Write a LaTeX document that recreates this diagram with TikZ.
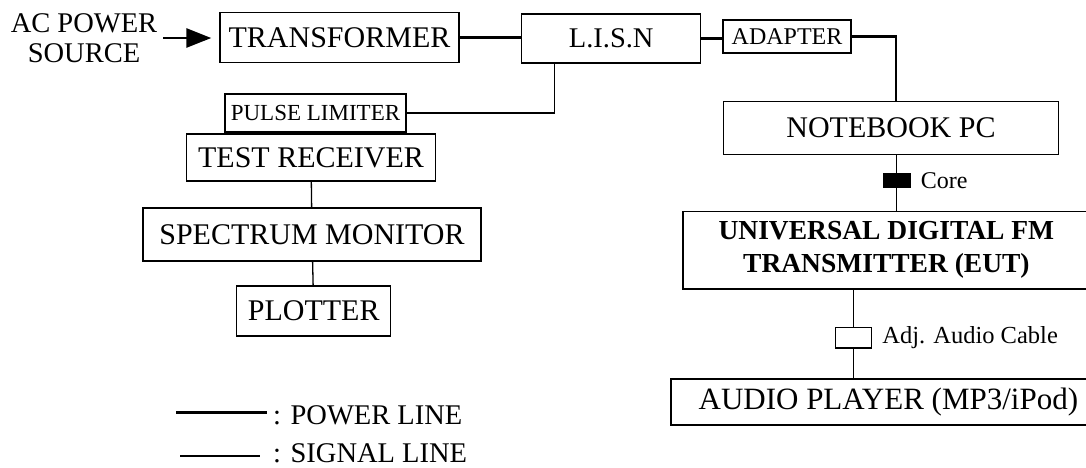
\documentclass[tikz,border=0pt]{standalone}
\usepackage{fontspec}
\setmainfont{Liberation Serif}
\usepackage{tikz}
\usetikzlibrary{positioning, arrows.meta}

\newcommand{\bigtxt}{\fontsize{30}{32}\selectfont}
\newcommand{\midtxt}{\fontsize{28.5}{30}\selectfont}
\newcommand{\smalltxt}{\fontsize{23}{25}\selectfont}

\begin{document}
\begin{tikzpicture}[x=1pt,y=-1pt,
        blk/.style={draw,line width=1.4pt,inner sep=0pt,font=\bigtxt},
        smallblk/.style={draw,line width=1.4pt,inner sep=0pt,font=\smalltxt},
        power/.style={line width=2.8pt},
        signal/.style={line width=1.3pt},
        lbl/.style={inner sep=2pt,font=\smalltxt}]
        \clip (0,0) rectangle (1086,467);
        % left column
        \node[align=center,font=\midtxt,inner sep=3pt] (src) at (84,38) {AC POWER\\SOURCE};
        \node[blk,minimum width=239pt,minimum height=50pt] (tr) at (339.5,37.5) {TRANSFORMER};
        \node[blk,font=\midtxt,minimum width=179pt,minimum height=49pt] (lisn) at (611.2,38.5) {L.I.S.N};
        \node[smallblk,font=\fontsize{24}{26}\selectfont,minimum width=128pt,minimum height=33pt] (adp) at (787,36.5) {ADAPTER};
        \node[smallblk,minimum width=181pt,minimum height=38pt] (pl) at (315.5,113) {PULSE LIMITER};
        \node[blk,minimum width=249pt,minimum height=47pt] (rx) at (311,157.3) {TEST RECEIVER};
        \node[blk,minimum width=338pt,minimum height=53pt] (sm) at (312,234.3) {SPECTRUM MONITOR};
        \node[blk,minimum width=154pt,minimum height=50pt] (plt) at (313.7,311) {PLOTTER};
        % right column
        \node[blk,minimum width=335pt,minimum height=53pt] (pc) at (891,128.2) {NOTEBOOK PC};
        \node[blk,font=\fontsize{27.5}{33}\selectfont\bfseries,align=center,
              minimum width=407pt,minimum height=77.5pt] (eut) at (886.4,250.2) {UNIVERSAL DIGITAL FM\\TRANSMITTER (EUT)};
        \node[blk,font=\fontsize{31}{33}\selectfont,minimum width=435pt,minimum height=46pt] (aud) at (888.4,402) {AUDIO PLAYER (MP3/iPod)};
        \node[fill,minimum width=28pt,minimum height=14.5pt,inner sep=0pt] (core) at (896.5,180.5) {};
        \node[lbl,font=\fontsize{24}{26}\selectfont,right=8pt of core] (corelbl) {Core};
        \node[draw,line width=1.2pt,fill=white,minimum width=36pt,minimum height=20.5pt,inner sep=0pt] (adj) at (853.5,337.7) {};
        \node[lbl,font=\fontsize{24.5}{26}\selectfont,right=8pt of adj] (adjlbl) {Adj. Audio Cable};
        % legend
        \node[anchor=base west,font=\midtxt,inner sep=0pt] (pwlbl) at (273,424) {: POWER LINE};
        \node[anchor=base west,font=\midtxt,inner sep=0pt] (sglbl) at (273,462) {: SIGNAL LINE};
        \coordinate (pw) at (176,412.3);
        \coordinate (sg) at (180,456);

        \draw[power,-{Triangle[length=25pt,width=19pt]},shorten <=3pt,shorten >=8pt] (src.east) -- (src.east -| tr.west);
        \path[power] (tr.east) edge (tr.east -| lisn.west)
                     (lisn.east) edge (lisn.east -| adp.west);
        \draw[power] (adp.east) -| ([xshift=5pt]pc.north);
        \draw[signal] ([xshift=-57pt]lisn.south) |- (pl.east);
        \path[signal] (rx) edge (sm)
                      (sm) edge (plt);
        \draw[signal] (core |- pc.south) -- (core |- eut.north);
        \path[signal] (adj) edge (adj |- eut.south)
                      (adj) edge (adj |- aud.north);
        \draw[power,shorten >=6pt] (pw) -- (pw -| pwlbl.west);
        \draw[signal,shorten >=13pt] (sg) -- (sg -| sglbl.west);
    \end{tikzpicture}
\end{document}
